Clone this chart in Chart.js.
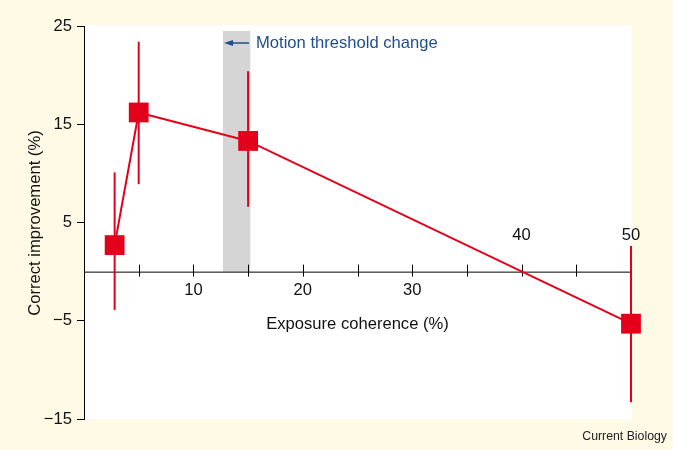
<!DOCTYPE html>
<html>
<head>
<meta charset="utf-8">
<script src="https://cdn.jsdelivr.net/npm/chart.js@4"></script>
<style>
    html, body { margin: 0; padding: 0; background: #fefae6; }
    #wrap { width: 673px; height: 450px; position: relative; }
</style>
</head>
<body>
<div id="wrap"><canvas id="coherenceChart" width="673" height="450"></canvas></div>
<script>
// Values
const coherence = [2.8, 5, 15, 50];
const improvement = [2.7, 16.2, 13.3, -5.3];
const errLow = [-3.9, 8.9, 6.6, -13.3];
const errHigh = [10.1, 23.4, 20.4, 2.6];
const xTicks = [5, 10, 15, 20, 25, 30, 35, 40, 45];
const xLabelsBelow = [10, 20, 30];
const xLabelsAbove = [40, 50];
const band = [12.7, 15.2];

const RED = '#e2001a';
const FONT = '"Liberation Sans", Arial, Helvetica, sans-serif';
const FS = '16.6px ';

const figurePlugin = {
    id: 'figure',
    beforeDraw(chart) {
        const { ctx, chartArea } = chart;
        ctx.save();
        ctx.fillStyle = '#fefae6';
        ctx.fillRect(0, 0, chart.width, chart.height);
        ctx.fillStyle = '#ffffff';
        ctx.fillRect(chartArea.left, chartArea.top - 1, chartArea.right - chartArea.left + 1, chartArea.bottom - chartArea.top + 1);
        ctx.restore();
    },
    beforeDatasetsDraw(chart) {
        const { ctx } = chart;
        const x = chart.scales.x, y = chart.scales.y;
        const y0 = y.getPixelForValue(0);
        ctx.save();

        // grey threshold band
        ctx.fillStyle = '#d5d5d5';
        const bx1 = x.getPixelForValue(band[0]), bx2 = x.getPixelForValue(band[1]);
        const by = y.getPixelForValue(24.5);
        ctx.fillRect(bx1, by, bx2 - bx1, y0 - by);

        // x axis through zero
        ctx.strokeStyle = '#000';
        ctx.lineWidth = 1;
        ctx.beginPath();
        ctx.moveTo(x.getPixelForValue(0), y0 + 0.5);
        ctx.lineTo(x.getPixelForValue(50), y0 + 0.5);
        xTicks.forEach(function(t) {
            const px = Math.round(x.getPixelForValue(t)) + 0.5;
            ctx.moveTo(px, y0 - 7);
            ctx.lineTo(px, y0 + 5);
        });
        ctx.stroke();

        ctx.fillStyle = '#111';
        ctx.font = FS + FONT;
        ctx.textAlign = 'center';
        ctx.textBaseline = 'middle';
        xLabelsBelow.forEach(function(t) {
            ctx.fillText(String(t), x.getPixelForValue(t), y0 + 19);
        });
        xLabelsAbove.forEach(function(t) {
            ctx.fillText(String(t), x.getPixelForValue(t), y0 - 36);
        });
        ctx.fillText('Exposure coherence (%)', x.getPixelForValue(25), y0 + 53);

        // error bars
        ctx.strokeStyle = RED;
        ctx.lineWidth = 2;
        coherence.forEach(function(c, i) {
            const px = x.getPixelForValue(c);
            ctx.beginPath();
            ctx.moveTo(px, y.getPixelForValue(errHigh[i]));
            ctx.lineTo(px, y.getPixelForValue(errLow[i]));
            ctx.stroke();
        });

        // annotation
        const ay = 43;
        ctx.strokeStyle = '#1f4e8c';
        ctx.fillStyle = '#1f4e8c';
        ctx.lineWidth = 1.5;
        ctx.beginPath();
        ctx.moveTo(249, ay);
        ctx.lineTo(230, ay);
        ctx.stroke();
        ctx.beginPath();
        ctx.moveTo(224, ay);
        ctx.lineTo(233, ay - 3);
        ctx.lineTo(233, ay + 3);
        ctx.closePath();
        ctx.fill();
        ctx.textAlign = 'left';
        ctx.font = FS + FONT;
        ctx.fillText('Motion threshold change', 256, ay);

        // y axis title
        ctx.fillStyle = '#111';
        ctx.translate(35, 223);
        ctx.rotate(-Math.PI / 2);
        ctx.textAlign = 'center';
        ctx.fillText('Correct improvement (%)', 0, 0);
        ctx.restore();

        ctx.save();
        ctx.fillStyle = '#222';
        ctx.font = '12.3px ' + FONT;
        ctx.textAlign = 'right';
        ctx.textBaseline = 'middle';
        ctx.fillText('Current Biology', 667, 437);
        ctx.restore();
    }
};

const points = coherence.map(function(c, i) { return { x: c, y: improvement[i] }; });

new Chart(document.getElementById('coherenceChart').getContext('2d'), {
    type: 'scatter',
    data: {
        datasets: [{
            data: points,
            showLine: true,
            borderColor: RED,
            borderWidth: 2,
            backgroundColor: RED,
            pointBackgroundColor: RED,
            pointBorderWidth: 0,
            pointStyle: 'rect',
            pointRadius: 14,
            pointHoverRadius: 14,
            clip: false
        }]
    },
    options: {
        responsive: false,
        animation: false,
        devicePixelRatio: 1,
        layout: { padding: { left: 0, top: 26, right: 42, bottom: 31 } },
        plugins: { legend: { display: false }, tooltip: { enabled: false } },
        scales: {
            x: { type: 'linear', min: 0, max: 50, display: false },
            y: {
                min: -15,
                max: 25,
                afterFit: function(scale) { scale.width = 84; },
                border: { display: true, color: '#000', width: 1 },
                grid: { drawOnChartArea: false, drawTicks: true, tickLength: 7, color: '#000' },
                ticks: {
                    stepSize: 10,
                    padding: 5,
                    color: '#111',
                    font: { family: FONT, size: 16.6 },
                    callback: function(v) { return String(v).replace('-', '\u2212'); }
                }
            }
        }
    },
    plugins: [figurePlugin]
});
</script>
</body>
</html>
